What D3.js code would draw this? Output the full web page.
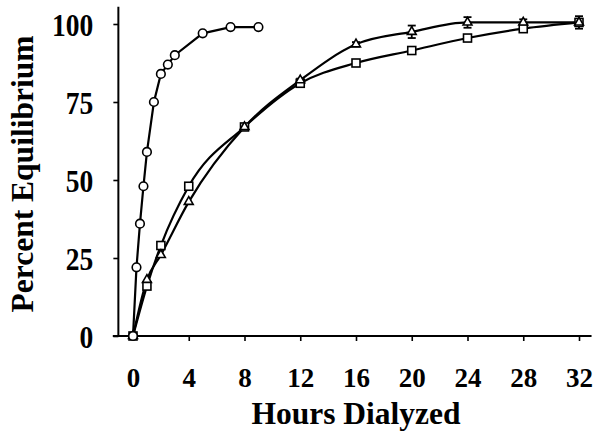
<!DOCTYPE html>
<html>
<head>
<meta charset="utf-8">
<script src="https://cdn.jsdelivr.net/npm/d3@7"></script>
<style>
  html, body { margin: 0; padding: 0; background: #fff; }
  svg text { font-family: "Liberation Serif", "Times New Roman", serif; font-weight: bold; fill: #000; }
</style>
</head>
<body>
<svg id="chart" width="595" height="438"></svg>
<script>
// ---- Data ----
const xTicks = [0, 4, 8, 12, 16, 20, 24, 28, 32];
const yTicks = [0, 25, 50, 75, 100];

const circleHours = [0, 0.25, 0.5, 0.75, 1, 1.5, 2, 2.5, 3, 5, 7, 9];
const circleValues = [0, 22, 36, 48, 59, 75, 84, 87, 90, 97, 99, 99];

const squareHours = [0, 1, 2, 4, 8, 12, 16, 20, 24, 28, 32];
const squareValues = [0, 16, 29, 48, 67, 81, 87.5, 91.5, 95.5, 98.5, 100.5];

const triangleHours = [0, 1, 2, 4, 8, 12, 16, 20, 24, 28, 32];
const triangleValues = [0, 18, 26, 43, 67, 82, 93.5, 97.5, 100.5, 100.5, 100.5];
const triangleErrors = [0, 0, 0, 0, 0, 0.5, 0.7, 2, 1.7, 1, 2];

const xLabel = "Hours Dialyzed";
const yLabel = "Percent Equilibrium";

// ---- Chart ----
const svg = d3.select("#chart");
const x = d3.scaleLinear().domain([0, 32]).range([133, 579]);
const y = d3.scaleLinear().domain([0, 100]).range([336, 24]);

// axes lines
const axisG = svg.append("g").attr("stroke", "#000").attr("stroke-width", 2);
axisG.append("line").attr("x1", x(-1.45)).attr("x2", x(32.9)).attr("y1", y(0)).attr("y2", y(0));
axisG.append("line").attr("x1", x(-1.05)).attr("x2", x(-1.05)).attr("y1", y(0)).attr("y2", y(105.5));

// x axis ticks
const xAxis = d3.axisBottom(x).tickValues(xTicks).tickSize(5);
const gx = svg.append("g").attr("transform", `translate(0,${y(0)})`).call(xAxis);
gx.select(".domain").remove();
gx.selectAll(".tick line").attr("stroke", "#000").attr("stroke-width", 1.6);
gx.selectAll(".tick text").attr("font-size", 27).attr("font-family", "Liberation Serif")
  .attr("font-weight", "bold").attr("y", 51).attr("dy", 0);

// y axis ticks
const yAxis = d3.axisLeft(y).tickValues(yTicks).tickSize(5);
const gy = svg.append("g").attr("transform", `translate(${x(-1.05)},0)`).call(yAxis);
gy.select(".domain").remove();
gy.selectAll(".tick line").attr("stroke", "#000").attr("stroke-width", 1.6);
gy.selectAll(".tick text").attr("font-size", 32).attr("font-family", "Liberation Serif")
  .attr("font-weight", "bold").attr("x", 0).attr("dy", "0.36em")
  .attr("transform", "translate(-25,0) scale(0.86,1)");

// axis titles
svg.append("text").attr("x", (x(0) + x(32)) / 2).attr("y", 424)
  .attr("text-anchor", "middle").attr("font-size", 31.5).text(xLabel);
svg.append("text").attr("transform", `translate(33,174) rotate(-90)`)
  .attr("text-anchor", "middle").attr("font-size", 31.5).text(yLabel);

// series helper
function series(hours, values) {
  return hours.map((h, i) => ({ h, v: values[i] }));
}
const circles = series(circleHours, circleValues);
const squares = series(squareHours, squareValues);
const triangles = triangleHours.map((h, i) => ({ h, v: triangleValues[i], e: triangleErrors[i] }));

const line = d3.line().x(d => x(d.h)).y(d => y(d.v)).curve(d3.curveMonotoneX);
const lineLin = d3.line().x(d => x(d.h)).y(d => y(d.v));

svg.append("path").datum(squares).attr("d", line).attr("fill", "none").attr("stroke", "#000").attr("stroke-width", 2.2);
svg.append("path").datum(triangles).attr("d", line).attr("fill", "none").attr("stroke", "#000").attr("stroke-width", 2.2);
svg.append("path").datum(circles).attr("d", lineLin).attr("fill", "none").attr("stroke", "#000").attr("stroke-width", 2.2);

// error bars (triangles)
const eb = svg.append("g").attr("stroke", "#000").attr("stroke-width", 1.8);
triangles.filter(d => d.e > 0).forEach(d => {
  eb.append("line").attr("x1", x(d.h)).attr("x2", x(d.h)).attr("y1", y(d.v - d.e)).attr("y2", y(d.v + d.e));
  eb.append("line").attr("x1", x(d.h) - 4).attr("x2", x(d.h) + 4).attr("y1", y(d.v - d.e)).attr("y2", y(d.v - d.e));
  eb.append("line").attr("x1", x(d.h) - 4).attr("x2", x(d.h) + 4).attr("y1", y(d.v + d.e)).attr("y2", y(d.v + d.e));
});

// markers
svg.append("g").selectAll("rect").data(squares).join("rect")
  .attr("x", d => x(d.h) - 4).attr("y", d => y(d.v) - 4).attr("width", 8).attr("height", 8)
  .attr("fill", "#fff").attr("stroke", "#000").attr("stroke-width", 1.6);
const tri = d3.symbol().type(d3.symbolTriangle).size(34);
svg.append("g").selectAll("path").data(triangles).join("path")
  .attr("transform", d => `translate(${x(d.h)},${y(d.v)})`).attr("d", tri)
  .attr("fill", "#fff").attr("stroke", "#000").attr("stroke-width", 1.6);
svg.append("g").selectAll("circle").data(circles).join("circle")
  .attr("cx", d => x(d.h)).attr("cy", d => y(d.v)).attr("r", 4.3)
  .attr("fill", "#fff").attr("stroke", "#000").attr("stroke-width", 1.6);
</script>
</body>
</html>
